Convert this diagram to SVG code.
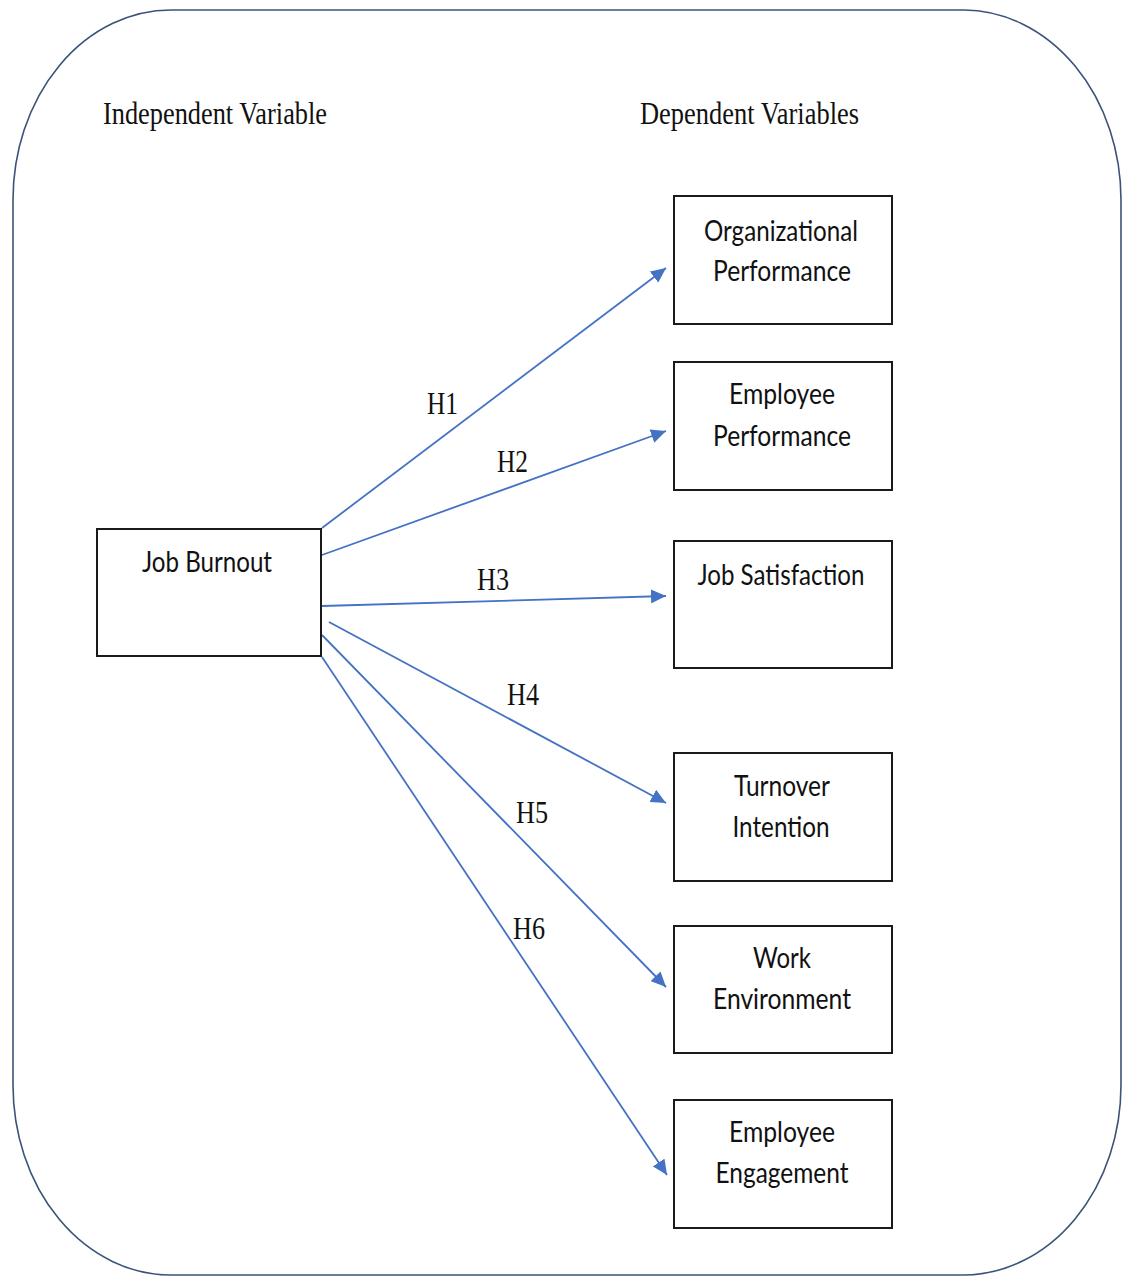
<svg xmlns="http://www.w3.org/2000/svg" width="1123" height="1276" viewBox="0 0 1123 1276">
<style>
.frame{fill:none;stroke:#3a5378;stroke-width:1.6}
.box{fill:#fff;stroke:#1a1a1a;stroke-width:2}
.lbl{font-family:"Lato","Open Sans","Liberation Sans",sans-serif;font-size:28px;fill:#111;text-anchor:middle}
.hdr{font-family:"Liberation Serif","Times New Roman",serif;font-size:31px;fill:#111}
.h{font-family:"Liberation Serif","Times New Roman",serif;font-size:31px;fill:#111}
.con{stroke:#4472C4;stroke-width:1.8;fill:none;marker-end:url(#ah)}
</style>
<defs>
<marker id="ah" markerUnits="userSpaceOnUse" markerWidth="16" markerHeight="14" refX="15" refY="7" orient="auto">
<path d="M0,0 L15,7 L0,14 Z" fill="#4472C4"/>
</marker>
</defs>
<rect width="1123" height="1276" fill="#fff"/>
<path class="frame" d="M171,10 H964 A158,190 0 0 1 1121,200 V1085 A158,190 0 0 1 964,1275 H171 A158,190 0 0 1 13,1085 V200 A158,190 0 0 1 171,10 Z"/>
<text class="hdr" x="103" y="124" textLength="224" lengthAdjust="spacingAndGlyphs">Independent Variable</text>
<text class="hdr" x="640" y="124" textLength="219" lengthAdjust="spacingAndGlyphs">Dependent Variables</text>
<g id="connectors">
<line class="con" x1="322" y1="528" x2="666" y2="268"/>
<line class="con" x1="322" y1="555" x2="666" y2="431"/>
<line class="con" x1="322" y1="606" x2="666" y2="596"/>
<line class="con" x1="329" y1="622" x2="666" y2="803"/>
<line class="con" x1="322" y1="635" x2="666" y2="987"/>
<line class="con" x1="322" y1="657" x2="667" y2="1175"/>
<text class="h" x="427" y="414" textLength="31" lengthAdjust="spacingAndGlyphs">H1</text>
<text class="h" x="497" y="472" textLength="31" lengthAdjust="spacingAndGlyphs">H2</text>
<text class="h" x="477" y="590" textLength="32" lengthAdjust="spacingAndGlyphs">H3</text>
<text class="h" x="507" y="705" textLength="32" lengthAdjust="spacingAndGlyphs">H4</text>
<text class="h" x="516" y="823" textLength="32" lengthAdjust="spacingAndGlyphs">H5</text>
<text class="h" x="513" y="939" textLength="32" lengthAdjust="spacingAndGlyphs">H6</text>
</g>
<g id="job-burnout">
<rect class="box" x="97" y="529" width="224" height="127"/>
<text class="lbl" x="207" y="572" textLength="130" lengthAdjust="spacingAndGlyphs">Job Burnout</text>
</g>
<g id="organizational-performance">
<rect class="box" x="674" y="196" width="218" height="128"/>
<text class="lbl" x="781" y="241" textLength="154" lengthAdjust="spacingAndGlyphs">Organizational</text>
<text class="lbl" x="782" y="281" textLength="138" lengthAdjust="spacingAndGlyphs">Performance</text>
</g>
<g id="employee-performance">
<rect class="box" x="674" y="362" width="218" height="128"/>
<text class="lbl" x="782" y="404" textLength="106" lengthAdjust="spacingAndGlyphs">Employee</text>
<text class="lbl" x="782" y="446" textLength="138" lengthAdjust="spacingAndGlyphs">Performance</text>
</g>
<g id="job-satisfaction">
<rect class="box" x="674" y="541" width="218" height="127"/>
<text class="lbl" x="781" y="585" textLength="167" lengthAdjust="spacingAndGlyphs">Job Satisfaction</text>
</g>
<g id="turnover-intention">
<rect class="box" x="674" y="753" width="218" height="128"/>
<text class="lbl" x="782" y="796" textLength="96" lengthAdjust="spacingAndGlyphs">Turnover</text>
<text class="lbl" x="781" y="837" textLength="97" lengthAdjust="spacingAndGlyphs">Intention</text>
</g>
<g id="work-environment">
<rect class="box" x="674" y="926" width="218" height="127"/>
<text class="lbl" x="782" y="968" textLength="58" lengthAdjust="spacingAndGlyphs">Work</text>
<text class="lbl" x="782" y="1009" textLength="138" lengthAdjust="spacingAndGlyphs">Environment</text>
</g>
<g id="employee-engagement">
<rect class="box" x="674" y="1100" width="218" height="128"/>
<text class="lbl" x="782" y="1142" textLength="106" lengthAdjust="spacingAndGlyphs">Employee</text>
<text class="lbl" x="782" y="1183" textLength="133" lengthAdjust="spacingAndGlyphs">Engagement</text>
</g>
</svg>
